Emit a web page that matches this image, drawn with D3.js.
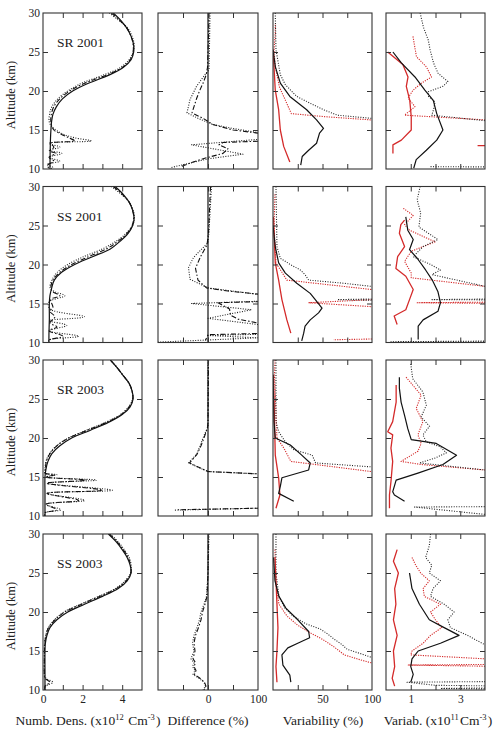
<!DOCTYPE html>
<html>
<head>
<meta charset="utf-8">
<script src="https://cdn.jsdelivr.net/npm/d3@7"></script>
<style>
  body { margin: 0; background: #fff; }
  text { font-family: "Liberation Serif", "Times New Roman", serif; fill: #222; }
</style>
</head>
<body>
<div id="chart"></div>
<script>
// ---- data: [altitude km, value] pairs, null value = gap ----
const titles = ['SR 2001', 'SS 2001', 'SR 2003', 'SS 2003'];
const altTicks = [15, 20, 25];
const altLabels = [10, 15, 20, 25, 30];
const densLabels = [0, 2, 4];
const diffLabels = [0, 100];
const varLabels = [50, 100];
const absLabels = [1, 3];
const zeroLine = [[30, 0], [10, 0]];

// SR 2001
const sr01DensSolid = [[30,3.55],[29,3.95],[28,4.25],[27,4.45],[26,4.57],[25,4.58],[24,4.45],[23,4.05],[22,3.3],[21,2.3],[20,1.5],[19,0.98],[18,0.68],[17,0.5],[16,0.43],[15,0.4],[14,0.38],[12,0.36],[10,0.35]];
const sr01DensDash = [[30,3.45],[29,3.9],[28,4.25],[27,4.45],[26,4.55],[25,4.55],[24,4.4],[23,4.0],[22,3.15],[21,2.1],[20,1.35],[19,0.85],[18,0.55],[17,0.42],[16,0.4],[15,0.55],[14.5,0.9],[14,1.3],[13.6,1.6],[13.3,0.4],[12.8,0.55],[12.3,0.35],[12,0.65],[11.5,0.3],[11,0.55],[10.5,0.25],[10,0.3]];
const sr01DensDot = [[30,3.35],[29,3.85],[28,4.3],[27,4.5],[26,4.6],[25,4.55],[24,4.35],[23,3.9],[22,3.0],[21,1.95],[20,1.25],[19,0.75],[18,0.45],[17,0.33],[16,0.32],[15.3,0.5],[14.5,1.0],[14,1.6],[13.6,2.45],[13.3,0.3],[12.8,0.85],[12.4,0.3],[12,0.95],[11.5,0.3],[11,0.85],[10.6,0.2],[10.2,0.5],[10,0.3]];
const sr01DiffDash = [[30,2],[27,1],[25,0],[23,-1],[22,-4],[21,-10],[20,-17],[19,-23],[18,-28],[17.2,-32],[16.5,-10],[15.7,10],[15,50],[14.6,100],[14.3,160],[13.8,200],[13.4,30],[13.1,22],[12.6,40],[12,30],[11.4,-5],[11,-25],[10.3,-55]];
const sr01DiffDot = [[30,4],[26,3],[22.7,2],[22.1,-6],[20.6,-23],[18.9,-36],[17.2,-42],[16.5,-20],[15.7,10],[15.2,50],[14.7,97],[14.4,200],[13.9,200],[13.8,100],[13.1,-33],[11.9,70],[11.3,0],[10.2,-73]];
const sr01VarBlack = [[25.3,0],[23.1,2.4],[21,7.4],[19.3,17],[17.6,34],[16.3,44],[15.2,51],[14.6,47],[13.3,44],[12.4,36],[11.6,29.5],[10.5,28]];
const sr01VarBlackDot = [[30,2.3],[25.3,3],[22.1,7.4],[20.8,12.5],[19.3,24],[18.4,38],[17.6,51],[16.9,65],[16.5,99],[16.3,140]];
const sr01VarRed = [[25.3,0],[23.1,1],[20.1,2.3],[17.6,5.7],[15,7.4],[12.9,10.8],[10.9,17]];
const sr01VarRedDot = [[28.5,2.3],[27.4,2.3],[25.2,1],[23.1,2.3],[20.5,6.5],[19.1,11.5],[17.1,18.5],[16.7,53],[16.3,98],[16.1,140]];
const sr01AbsBlack = [[25,0.28],[23.6,0.62],[21.8,1.17],[20.1,1.57],[18.8,1.91],[17.1,2.05],[15,2.3],[13.7,2.05],[12.4,1.63],[11.2,1.22],[10.1,1.12]];
const sr01AbsBlackDot = [[30,1.38],[28.2,1.51],[26.5,1.71],[25.3,1.78],[23.6,1.92],[22.3,2.1],[21.2,2.5],[20.6,2.3],[19.9,1.71],[19.3,1.72],[18.6,1.98],[17.6,1.92],[16.9,1.85],[16.2,4.0],[16.1,5],[12,null],[10.3,1.8],[10.25,5]];
const sr01AbsRed = [[25,0.07],[23.4,0.68],[21.8,0.89],[20.6,0.82],[18.8,0.96],[16.7,1.02],[15,1.02],[13.7,0.62],[13.1,0.28],[12,0.28],[12,null],[13.0,3.7],[13.0,4.2]];
const sr01AbsRedDot = [[27,1.09],[24.4,1.23],[23.1,1.63],[21.8,1.84],[21,1.43],[20.1,1.09],[19.1,0.89],[18,1.17],[16.9,0.75],[16.3,4.0],[16.2,5]];

// SS 2001
const ss01DensSolid = [[30,3.64],[29,4.05],[28,4.35],[27,4.52],[26,4.6],[25,4.53],[24,4.3],[23,3.9],[22,3.4],[21,2.5],[20,1.6],[19,0.94],[18,0.57],[17,0.44],[16,0.35],[15,0.32],[13,0.32],[11,0.3],[10,0.3]];
const ss01DensDash = [[30,3.55],[29,4.0],[28,4.35],[27,4.52],[26,4.58],[25,4.5],[24,4.25],[23,3.8],[22,3.2],[21,2.3],[20,1.45],[19,0.85],[18,0.5],[17,0.4],[16.5,0.5],[16,0.85],[15.5,0.4],[14.5,0.5],[14,0.35],[13.3,0.6],[12.5,0.35],[12,0.7],[11.5,0.3],[10.8,1.0],[10.3,0.3],[10,0.3]];
const ss01DensDot = [[30,3.45],[29,3.95],[28,4.35],[27,4.55],[26,4.62],[25,4.52],[24,4.2],[23,3.7],[22,3.0],[21,2.05],[20,1.25],[19,0.72],[18,0.45],[17,0.36],[16.5,0.6],[16,1.1],[15.2,0.3],[14.3,0.35],[13.3,2.1],[12.8,0.3],[12.2,1.2],[11.5,0.3],[10.8,1.8],[10.3,0.3],[10,0.3]];
const ss01DiffDash = [[30,5],[27,3],[24,1],[22.5,-2],[21,-15],[19.5,-25],[18,-20],[17,-3],[16.6,40],[16.2,100],[16.0,200],[15.4,200],[15.1,20],[14.3,43],[13.5,45],[13.0,60],[12.5,100],[12.3,200],[11.3,200],[11.0,0],[10.3,-5]];
const ss01DiffDot = [[30,7],[24.3,2],[22.8,0],[20.9,-29],[19.6,-39],[18.1,-36],[17.0,0],[16.2,97],[16.0,200],[15.5,200],[15.0,-33],[14.2,87],[13.1,0],[12.3,100],[12.1,200],[11.2,200],[10.9,0],[10.6,100],[10.05,-100]];
const ss01VarBlack = [[25,0],[22.3,2.3],[20.2,5.7],[18.9,12.5],[17.6,24],[16.3,37.6],[15.5,42.7],[14.4,49.5],[13.8,46],[12.9,37.6],[12.1,32.4],[11.2,31],[10.2,29]];
const ss01VarBlackDot = [[30,3],[22.3,4],[20.8,7.4],[20,17.5],[19.3,27.5],[18.7,32.4],[18,36],[17.6,71],[17.2,99],[17.1,150],[15.7,150],[15.5,65],[15.3,150]];
const ss01VarRed = [[26.1,0.5],[20.2,2.3],[18,5.7],[15.5,9],[12.9,14],[11.2,18]];
const ss01VarRedDot = [[29,2],[25,1],[20.2,3],[18.3,12.5],[18,14],[16.8,99],[16.7,150],[15.8,150],[15.1,35.8],[14.6,99],[14.5,150],[10.6,150],[10.45,100],[10.35,61]];
const ss01AbsBlack = [[26.1,0.8],[24.4,0.88],[23.2,1.1],[21.9,0.95],[20.8,1.26],[19.3,1.6],[18,1.87],[16.5,2.1],[15.1,2.2],[14,2.1],[12.9,1.5],[12.1,1.3],[10.4,1.3]];
const ss01AbsBlackDot = [[30,1.38],[28.3,1.26],[26.6,1.4],[24.8,1.33],[23.2,2.1],[22.3,1.5],[21,1.1],[20,1.8],[19.3,2.2],[18.7,1.86],[17.2,4.0],[17.1,5],[15.6,5],[15.5,1.86],[15.45,5],[10.2,5],[10.1,0.2],[10.05,5]];
const ss01AbsRed = [[25.7,0.75],[25.1,0.6],[24,0.54],[22.3,0.75],[21,0.47],[19.5,0.4],[18.5,0.8],[16.8,1.1],[15.5,0.95],[14.2,0.8],[13.4,0.33],[12.3,0.45]];
const ss01AbsRedDot = [[27.2,0.7],[26.3,1.1],[25.1,0.75],[24.4,0.95],[22.9,1.98],[21.7,1.02],[20.4,0.75],[18.9,1.02],[18.3,1.02],[17.2,4.0],[17.1,5],[15.2,5],[15.1,1.26],[15.0,5]];

// SR 2003
const sr03DensSolid = [[30,3.4],[29,3.75],[28,4.05],[27,4.35],[26,4.5],[25,4.55],[24,4.4],[23,4.0],[22,3.3],[21,2.4],[20,1.45],[19,0.85],[18,0.45],[17,0.25],[16,0.15],[15,0.1],[13,0.1],[11,0.1],[10,0.1]];
const sr03DensDash = [[30,3.4],[29,3.75],[28,4.05],[27,4.35],[26,4.5],[25,4.53],[24,4.35],[23,3.95],[22,3.2],[21,2.25],[20,1.3],[19,0.7],[18,0.35],[17,0.17],[16,0.12],[15.5,0.1],[15.3,0.6],[15,0.15],[14.6,2.2],[14.2,0.2],[13.3,3.0],[12.9,0.2],[12,1.8],[11.5,0.15],[10.8,0.7],[10.4,0.1],[10,0.1]];
const sr03DensDot = [[30,3.4],[29,3.75],[28,4.05],[27,4.35],[26,4.5],[25,4.52],[24,4.33],[23,3.9],[22,3.15],[21,2.2],[20,1.28],[19,0.68],[18,0.33],[17,0.15],[16,0.1],[15.5,0.1],[15.3,0.7],[15,0.15],[14.6,2.7],[14.2,0.2],[13.3,3.5],[12.9,0.2],[12,2.1],[11.5,0.15],[10.8,0.9],[10.4,0.1],[10,0.1]];
const sr03DiffDash = [[30,1],[22,0],[21.3,-1],[20,-8],[19,-14],[17.9,-22],[16.8,-37],[15.7,0],[15.4,100],[15.3,300],[11.1,300],[11.0,100],[10.8,-60]];
const sr03DiffDot = [[30,0],[21.5,0],[20,-10],[19.1,-15],[17.9,-23],[16.8,-39],[15.7,0],[15.4,100],[15.3,300],[11.05,300],[11.0,100],[10.75,-68]];
const sr03VarBlack = [[28.1,0],[22.1,1],[20,2.3],[19.1,17.5],[17.8,29],[16.8,37.6],[15.9,36],[14.9,9],[13.8,7.4],[12.9,5.7],[11.9,21]];
const sr03VarBlackDot = [[30,3],[22.1,3],[20.8,5.7],[19.5,12.5],[18.5,21],[17.8,39.6],[16.8,43],[16.3,99],[16.2,150]];
const sr03VarRed = [[28.1,0.5],[17.8,2.3],[14.9,5.7],[12.7,7],[11,3]];
const sr03VarRedDot = [[30,2],[28,1.5],[20,4],[18.7,11],[17,18],[15.7,99],[15.6,150]];
const sr03AbsBlack = [[27.8,0.54],[26.4,0.54],[24.6,0.61],[22.9,0.75],[21.2,0.88],[19.8,1.02],[19.3,2.03],[17.8,2.85],[16.6,2.3],[15.5,1.29],[14.6,0.41],[13.1,0.27],[12.7,0.34],[11.9,0.75]];
const sr03AbsBlackDot = [[29.5,1.0],[27.6,1.08],[25.9,1.49],[24.2,1.63],[22.7,1.42],[21.5,1.76],[20.4,1.49],[19.5,1.63],[18.9,2.17],[18.1,2.44],[17.4,1.96],[16.8,1.35],[15.9,4.0],[15.8,5],[11.3,5],[11.2,4],[11.15,1.15],[10.2,4.0],[10.1,5]];
const sr03AbsRed = [[26.8,0.41],[24.6,0.41],[22.1,0.27],[20.8,0.07],[20.4,0.27],[18.7,0.2],[17,0.27],[14.4,0.2],[12.7,0.14],[11,0.14]];
const sr03AbsRedDot = [[27.8,0.81],[25.5,1.42],[23.8,1.22],[22.1,1.49],[20.4,1.29],[19.3,1.42],[18.3,1.29],[17,0.61],[16.6,1.42],[15.9,4.0],[15.8,5]];

// SS 2003
const ss03DensSolid = [[30,3.3],[29,3.7],[28,4.0],[27,4.25],[26,4.4],[25,4.45],[24,4.25],[23,3.8],[22,3.0],[21,2.1],[20,1.25],[19,0.7],[18,0.35],[17,0.2],[16,0.12],[15,0.1],[12,0.1],[10,0.1]];
const ss03DensDash = [[30,3.35],[29,3.75],[28,4.05],[27,4.3],[26,4.42],[25,4.43],[24,4.2],[23,3.7],[22,2.85],[21,1.95],[20,1.1],[19,0.6],[18,0.28],[17,0.15],[16,0.09],[14,0.07],[12,0.07],[11.5,0.1],[11,0.35],[10.5,0.1],[10,0.1]];
const ss03DensDot = [[30,3.4],[29,3.8],[28,4.1],[27,4.35],[26,4.45],[25,4.42],[24,4.15],[23,3.65],[22,2.8],[21,1.9],[20,1.05],[19,0.58],[18,0.27],[17,0.14],[16,0.08],[14,0.07],[12,0.07],[11.5,0.15],[11,0.5],[10.5,0.15],[10,0.1]];
const ss03DiffDash = [[30,1],[25,0],[22,-2],[21,-6],[20,-11],[19,-14],[18,-19],[17,-25],[16,-28],[15,-26],[14,-30],[13.5,-25],[13,-28],[12.5,-24],[12,-27],[11.5,-16],[11,-7],[10.5,-4],[10,-8]];
const ss03DiffDot = [[30,2],[25,0],[22,-3],[21,-8],[20,-14],[19,-17],[18,-22],[17,-28],[16,-31],[15,-28],[14,-34],[13.5,-28],[13,-31],[12.5,-26],[12,-30],[11.5,-18],[11,-8],[10.5,-5],[10,-10]];
const ss03VarBlack = [[27,0.5],[24,2],[22,6],[20.5,13],[19,25],[17.5,36],[16.7,37],[16,25],[15.4,15],[14.5,9],[13.2,10],[11.9,17],[11,18]];
const ss03VarBlackDot = [[30,3],[25,3],[22,6],[20.5,12],[19.5,20],[18.5,33],[17.8,48],[17.2,55],[16.5,62],[15.8,70],[15.2,75],[14.6,90],[14.2,99],[14.1,150]];
const ss03VarRed = [[27,2],[24,3],[21,4],[18,5],[15,4],[13,3],[11,4]];
const ss03VarRedDot = [[28,2],[24,2.5],[21,6],[19.5,14],[18.3,25],[17.3,38],[16.5,50],[15.5,62],[14.5,72],[13.8,90],[13.5,99],[13.4,150]];
const ss03AbsBlack = [[25,0.95],[23,1.05],[21,1.35],[19,1.75],[18,2.35],[17,2.95],[16,2.2],[15,1.3],[14,1.05],[13,1.0],[12,1.1],[11,1.0]];
const ss03AbsBlackDot = [[30,1.8],[28.5,1.75],[27,1.6],[26,1.85],[25,1.75],[24,2.2],[23,1.9],[22,1.8],[21,2.35],[20,2.75],[19,2.5],[18,2.6],[17,3.3],[16.3,3.7],[15.8,4.0],[15.7,5],[11.1,5],[11.0,0.85],[10.6,2.0],[10.5,5],[10.3,5],[10.2,2.2],[10.1,5]];
const ss03AbsRed = [[28,0.45],[26.5,0.3],[25,0.5],[23,0.35],[21,0.4],[19,0.3],[17,0.45],[15,0.3],[13,0.35],[11.5,0.25],[10.5,0.35]];
const ss03AbsRedDot = [[27,1.05],[26,1.2],[25,1.4],[24,1.75],[23,1.5],[22,1.55],[21,2.2],[20,1.8],[19,2.0],[18,2.25],[17,1.8],[16,1.5],[15,1.05],[14.5,1.0],[14,4.0],[13.9,5],[13.3,5],[13.2,0.9],[13.0,5]];

// ---- layout ----
const W = 493, H = 731;
const rowTop = [13, 186.5, 360, 534], rowH = 156;
const colX = [[43, 142], [158, 258], [273, 372], [386, 485]];
const colDomain = [[0, 5], [-100, 100], [0, 100], [0, 4]];
const colTicks = [[1, 2, 3, 4], [-50, 0, 50], [25, 50, 75], [1, 2, 3]];
const colLabels = [densLabels, diffLabels, varLabels, absLabels];
const SERIF = '"Liberation Serif", "Times New Roman", serif';
const RED = '#d42a2a';
const styles = {
    solid:   { stroke: '#111', width: 1.2, dash: null },
    dashdot: { stroke: '#111', width: 1.1, dash: '5,2,1.5,2' },
    dot:     { stroke: '#222', width: 1.1, dash: '1,1.5' },
    red:     { stroke: RED, width: 1.3, dash: null },
    reddot:  { stroke: RED, width: 1.1, dash: '1.2,1.2' }
};

// which series go in which panel
const panels = [
    [
        [[sr01DensDot, 'dot'], [sr01DensDash, 'dashdot'], [sr01DensSolid, 'solid']],
        [[zeroLine, 'solid'], [sr01DiffDot, 'dot'], [sr01DiffDash, 'dashdot']],
        [[sr01VarRedDot, 'reddot'], [sr01VarBlackDot, 'dot'], [sr01VarRed, 'red'], [sr01VarBlack, 'solid']],
        [[sr01AbsRedDot, 'reddot'], [sr01AbsBlackDot, 'dot'], [sr01AbsRed, 'red'], [sr01AbsBlack, 'solid']]
    ],
    [
        [[ss01DensDot, 'dot'], [ss01DensDash, 'dashdot'], [ss01DensSolid, 'solid']],
        [[zeroLine, 'solid'], [ss01DiffDot, 'dot'], [ss01DiffDash, 'dashdot']],
        [[ss01VarRedDot, 'reddot'], [ss01VarBlackDot, 'dot'], [ss01VarRed, 'red'], [ss01VarBlack, 'solid']],
        [[ss01AbsRedDot, 'reddot'], [ss01AbsBlackDot, 'dot'], [ss01AbsRed, 'red'], [ss01AbsBlack, 'solid']]
    ],
    [
        [[sr03DensDot, 'dot'], [sr03DensDash, 'dashdot'], [sr03DensSolid, 'solid']],
        [[zeroLine, 'solid'], [sr03DiffDot, 'dot'], [sr03DiffDash, 'dashdot']],
        [[sr03VarRedDot, 'reddot'], [sr03VarBlackDot, 'dot'], [sr03VarRed, 'red'], [sr03VarBlack, 'solid']],
        [[sr03AbsRedDot, 'reddot'], [sr03AbsBlackDot, 'dot'], [sr03AbsRed, 'red'], [sr03AbsBlack, 'solid']]
    ],
    [
        [[ss03DensDot, 'dot'], [ss03DensDash, 'dashdot'], [ss03DensSolid, 'solid']],
        [[zeroLine, 'solid'], [ss03DiffDot, 'dot'], [ss03DiffDash, 'dashdot']],
        [[ss03VarRedDot, 'reddot'], [ss03VarBlackDot, 'dot'], [ss03VarRed, 'red'], [ss03VarBlack, 'solid']],
        [[ss03AbsRedDot, 'reddot'], [ss03AbsBlackDot, 'dot'], [ss03AbsRed, 'red'], [ss03AbsBlack, 'solid']]
    ]
];

const svg = d3.select('#chart').append('svg')
    .attr('width', W)
    .attr('height', H)
    .style('background', '#fff');

const defs = svg.append('defs');

panels.forEach((row, r) => {
    const top = rowTop[r];
    const y = d3.scaleLinear().domain([10, 30]).range([top + rowH, top]);

    row.forEach((series, c) => {
        const [x0, x1] = colX[c];
        const x = d3.scaleLinear().domain(colDomain[c]).range([x0, x1]);
        const clipId = `clip-${r}-${c}`;
        defs.append('clipPath').attr('id', clipId)
            .append('rect')
            .attr('x', x0).attr('y', top)
            .attr('width', x1 - x0).attr('height', rowH);

        const g = svg.append('g');
        const lines = g.append('g').attr('clip-path', `url(#${clipId})`);

        const line = d3.line()
            .defined(d => d[1] != null)
            .x(d => x(d[1]))
            .y(d => y(d[0]))
            .curve(c === 0 ? d3.curveCatmullRom.alpha(0.5) : d3.curveLinear);

        series.forEach(([data, key]) => {
            const s = styles[key];
            lines.append('path')
                .datum(data)
                .attr('d', line)
                .attr('fill', 'none')
                .attr('stroke', s.stroke)
                .attr('stroke-width', s.width)
                .attr('stroke-dasharray', s.dash)
                .attr('stroke-linejoin', 'round');
        });

        // inward ticks on all four sides
        const tickAxes = [
            [d3.axisBottom(x).tickValues(colTicks[c]).tickSize(-5), `translate(0,${top + rowH})`],
            [d3.axisTop(x).tickValues(colTicks[c]).tickSize(-5), `translate(0,${top})`],
            [d3.axisLeft(y).tickValues(altTicks).tickSize(-5), `translate(${x0},0)`],
            [d3.axisRight(y).tickValues(altTicks).tickSize(-5), `translate(${x1},0)`]
        ];
        tickAxes.forEach(([axis, tr]) => {
            const a = g.append('g').attr('transform', tr)
                .call(axis.tickFormat(''));
            a.select('.domain').remove();
            a.selectAll('.tick line').attr('stroke', '#333').attr('stroke-width', 1);
        });

        g.append('rect')
            .attr('x', x0).attr('y', top)
            .attr('width', x1 - x0).attr('height', rowH)
            .attr('fill', 'none')
            .attr('stroke', '#333')
            .attr('stroke-width', 1.1);

        if (c === 0) {
            const yl = g.append('g').attr('transform', `translate(${x0},0)`)
                .call(d3.axisLeft(y).tickValues(altLabels).tickSize(0).tickPadding(3)
                    .tickFormat(d3.format('d')));
            yl.attr('font-family', SERIF).attr('font-size', 11.5);
            yl.select('.domain').remove();
            yl.selectAll('text').attr('fill', '#222');

            g.append('text')
                .attr('x', 57)
                .attr('y', top + 34)
                .style('font-size', '13.5px')
                .text(titles[r]);

            g.append('text')
                .attr('transform', `translate(15,${top + rowH / 2 + 4}) rotate(-90)`)
                .attr('text-anchor', 'middle')
                .style('font-size', '12.5px')
                .text('Altitude (km)');
        }

        if (r === panels.length - 1) {
            const xl = g.append('g').attr('transform', `translate(0,${top + rowH})`)
                .call(d3.axisBottom(x).tickValues(colLabels[c]).tickSize(0).tickPadding(5)
                    .tickFormat(d3.format('d')));
            xl.attr('font-family', SERIF).attr('font-size', 11.5);
            xl.select('.domain').remove();
            xl.selectAll('text').attr('fill', '#222');
        }
    });
});

// bottom axis titles with superscripts
const labelY = 725;
function addLabel(cx, parts) {
    const t = svg.append('text')
        .attr('x', cx).attr('y', labelY)
        .attr('text-anchor', 'middle')
        .style('font-size', '13.5px');
    parts.forEach(p => {
        if (p.sup) {
            t.append('tspan').attr('dy', -5).style('font-size', '8.5px').text(p.text);
            t.append('tspan').attr('dy', 5).text('\u200A');
        } else {
            t.append('tspan').text(p.text);
        }
    });
}
addLabel(88, [{ text: 'Numb. Dens. (x10' }, { text: '12', sup: true }, { text: ' Cm' }, { text: '-3', sup: true }, { text: ')' }]);
addLabel(208, [{ text: 'Difference (%)' }]);
addLabel(323, [{ text: 'Variability (%)' }]);
addLabel(438, [{ text: 'Variab. (x10' }, { text: '11', sup: true }, { text: 'Cm' }, { text: '-3', sup: true }, { text: ')' }]);
</script>
</body>
</html>
